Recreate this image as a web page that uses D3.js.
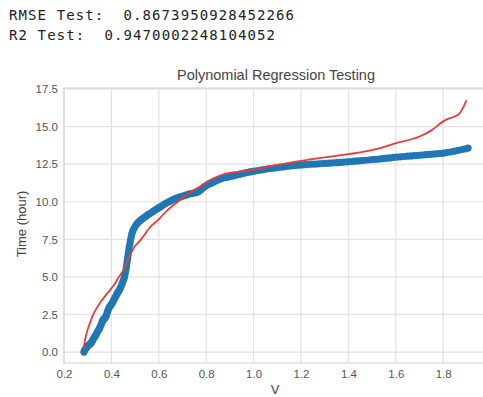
<!DOCTYPE html>
<html>
<head>
<meta charset="utf-8">
<script src="https://cdn.jsdelivr.net/npm/d3@7"></script>
<style>
  html, body { margin: 0; padding: 0; background: #fff; }
  svg { display: block; }
  .score { white-space: pre; }
</style>
</head>
<body>
<div id="chart"></div>
<script>
// printed scores above the figure
const scoreLines = [
  'RMSE Test:  0.8673950928452266',
  'R2 Test:  0.9470002248104052',
];

const xTicks = [0.2, 0.4, 0.6, 0.8, 1.0, 1.2, 1.4, 1.6, 1.8];
const yTicks = [0, 2.5, 5, 7.5, 10, 12.5, 15, 17.5];

// test points (V, hours)
const testV = [
  0.284, 0.287, 0.291, 0.295, 0.299, 0.303, 0.307, 0.311, 0.315, 0.319,
  0.323, 0.327, 0.331, 0.335, 0.339, 0.343, 0.347, 0.351, 0.355, 0.359,
  0.362, 0.366, 0.370, 0.374, 0.378, 0.381, 0.384, 0.388, 0.392, 0.396,
  0.400, 0.404, 0.408, 0.412, 0.416, 0.420, 0.424, 0.428, 0.432, 0.436,
  0.440, 0.444, 0.448, 0.452, 0.455, 0.458, 0.461, 0.463, 0.465, 0.467,
  0.469, 0.471, 0.473, 0.475, 0.478, 0.480, 0.483, 0.486, 0.490, 0.495,
  0.501, 0.507, 0.514, 0.522, 0.530, 0.538, 0.546, 0.554, 0.562, 0.570,
  0.578, 0.586, 0.594, 0.602, 0.610, 0.618, 0.626, 0.634, 0.642, 0.650,
  0.658, 0.666, 0.674, 0.682, 0.690, 0.698, 0.706, 0.714, 0.722, 0.730,
  0.738, 0.746, 0.754, 0.762, 0.770, 0.778, 0.786, 0.794, 0.802, 0.810,
  0.818, 0.826, 0.834, 0.842, 0.850, 0.858, 0.866, 0.874, 0.882, 0.890,
  0.898, 0.906, 0.914, 0.922, 0.930, 0.940, 0.950, 0.960, 0.970, 0.980,
  0.990, 1.005, 1.020, 1.035, 1.050, 1.065, 1.080, 1.095, 1.110, 1.125,
  1.140, 1.155, 1.170, 1.185, 1.200, 1.215, 1.230, 1.245, 1.260, 1.275,
  1.290, 1.305, 1.320, 1.335, 1.350, 1.365, 1.380, 1.395, 1.410, 1.425,
  1.440, 1.455, 1.470, 1.485, 1.500, 1.515, 1.530, 1.545, 1.560, 1.575,
  1.590, 1.605, 1.620, 1.635, 1.650, 1.665, 1.680, 1.695, 1.710, 1.725,
  1.740, 1.755, 1.770, 1.785, 1.800, 1.815, 1.830, 1.845, 1.860, 1.875,
  1.890, 1.905,
];
const testHours = [
  0.00, 0.12, 0.22, 0.30, 0.38, 0.45, 0.50, 0.55, 0.62, 0.72,
  0.84, 0.95, 1.05, 1.15, 1.28, 1.40, 1.50, 1.62, 1.78, 1.92,
  2.05, 2.15, 2.22, 2.30, 2.40, 2.55, 2.72, 2.88, 3.00, 3.08,
  3.18, 3.28, 3.40, 3.52, 3.64, 3.76, 3.88, 3.98, 4.08, 4.20,
  4.34, 4.50, 4.66, 4.84, 5.00, 5.20, 5.42, 5.64, 5.86, 6.08,
  6.30, 6.52, 6.74, 6.96, 7.18, 7.40, 7.62, 7.84, 8.04, 8.22,
  8.38, 8.52, 8.64, 8.76, 8.86, 8.95, 9.04, 9.14, 9.22, 9.30,
  9.38, 9.46, 9.54, 9.62, 9.70, 9.78, 9.86, 9.93, 10.00, 10.06,
  10.12, 10.18, 10.24, 10.28, 10.32, 10.36, 10.40, 10.44, 10.48, 10.52,
  10.55, 10.58, 10.60, 10.64, 10.70, 10.80, 10.92, 11.02, 11.10, 11.16,
  11.22, 11.28, 11.34, 11.40, 11.46, 11.51, 11.56, 11.60, 11.62, 11.64,
  11.67, 11.70, 11.73, 11.76, 11.79, 11.83, 11.87, 11.91, 11.94, 11.97,
  12.00, 12.04, 12.08, 12.12, 12.16, 12.20, 12.23, 12.26, 12.29, 12.32,
  12.35, 12.38, 12.41, 12.43, 12.45, 12.47, 12.48, 12.50, 12.51, 12.53,
  12.54, 12.56, 12.57, 12.59, 12.60, 12.62, 12.64, 12.66, 12.68, 12.70,
  12.72, 12.74, 12.76, 12.78, 12.80, 12.82, 12.84, 12.87, 12.90, 12.92,
  12.95, 12.97, 12.99, 13.01, 13.03, 13.05, 13.07, 13.09, 13.11, 13.13,
  13.15, 13.17, 13.19, 13.21, 13.23, 13.27, 13.31, 13.36, 13.41, 13.46,
  13.51, 13.57,
];

// polynomial fit, sampled
const fitV = [
  0.283, 0.290, 0.300, 0.310, 0.322, 0.337, 0.355, 0.375, 0.393, 0.410,
  0.430, 0.450, 0.463, 0.480, 0.500, 0.520, 0.533, 0.560, 0.604, 0.630,
  0.660, 0.688, 0.720, 0.750, 0.773, 0.800, 0.843, 0.880, 0.940, 1.000,
  1.100, 1.200, 1.300, 1.405, 1.504, 1.602, 1.700, 1.750, 1.800, 1.825,
  1.849, 1.870, 1.885, 1.898,
];
const fitHours = [
  0.25, 0.90, 1.50, 1.95, 2.45, 2.90, 3.35, 3.75, 4.10, 4.45,
  4.95, 5.45, 5.90, 6.50, 7.05, 7.40, 7.65, 8.25, 8.90, 9.35,
  9.75, 10.10, 10.50, 10.80, 11.00, 11.30, 11.65, 11.85, 12.00, 12.12,
  12.45, 12.72, 12.95, 13.18, 13.45, 13.90, 14.34, 14.75, 15.35, 15.55,
  15.67, 15.90, 16.30, 16.75,
];

const width = 483;
const height = 397;
const margin = { top: 88, right: -8, bottom: 34, left: 64 };
const plotW = width - margin.left - margin.right;
const plotH = height - margin.top - margin.bottom;

const svg = d3.select('#chart')
  .append('svg')
  .attr('width', width)
  .attr('height', height)
  .attr('viewBox', `0 0 ${width} ${height}`);

svg.selectAll('text.score')
  .data(scoreLines)
  .join('text')
  .attr('class', 'score')
  .attr('x', 9)
  .attr('y', (d, i) => 20 + i * 19.5)
  .attr('textLength', (d) => d.length * 9.5)
  .attr('lengthAdjust', 'spacing')
  .attr('font-family', '"DejaVu Sans Mono", "Liberation Mono", monospace')
  .attr('font-size', 14)
  .attr('fill', '#222')
  .text((d) => d);

const x = d3.scaleLinear()
  .domain([0.2, 0.2 + plotW / 237])
  .range([0, plotW]);

const y = d3.scaleLinear()
  .domain([-0.73, 17.57])
  .range([plotH, 0]);

const g = svg.append('g')
  .attr('transform', `translate(${margin.left}, ${margin.top})`);

g.append('clipPath')
  .attr('id', 'clip')
  .append('rect')
  .attr('width', plotW)
  .attr('height', plotH);

// grid
g.append('g')
  .selectAll('line')
  .data(xTicks)
  .join('line')
  .attr('x1', (d) => x(d))
  .attr('x2', (d) => x(d))
  .attr('y1', 0)
  .attr('y2', plotH)
  .attr('stroke', '#e2e2e2')
  .attr('stroke-width', 1.2);

g.append('g')
  .selectAll('line')
  .data(yTicks)
  .join('line')
  .attr('x1', 0)
  .attr('x2', plotW)
  .attr('y1', (d) => y(d))
  .attr('y2', (d) => y(d))
  .attr('stroke', '#e2e2e2')
  .attr('stroke-width', 1.2);

// frame
g.append('rect')
  .attr('width', plotW)
  .attr('height', plotH)
  .attr('fill', 'none')
  .attr('stroke', '#d4d4d4')
  .attr('stroke-width', 1.2);

// axes, ticks hidden like seaborn whitegrid
const xAxis = (sel) => sel
  .call(d3.axisBottom(x)
    .tickValues(xTicks)
    .tickSize(0)
    .tickPadding(7)
    .tickFormat(d3.format('.1f')));

const yAxis = (sel) => sel
  .call(d3.axisLeft(y)
    .tickValues(yTicks)
    .tickSize(0)
    .tickPadding(6)
    .tickFormat(d3.format('.1f')));

g.append('g')
  .attr('transform', `translate(0, ${plotH})`)
  .call(xAxis)
  .call((a) => a.select('.domain').remove());

g.append('g')
  .call(yAxis)
  .call((a) => a.select('.domain').remove());

g.selectAll('.tick text')
  .attr('font-family', '"Liberation Sans", Arial, sans-serif')
  .attr('font-size', 11.5)
  .attr('fill', '#555');

const points = testV.map((v, i) => ({ v: v, h: testHours[i] }));
const fit = fitV.map((v, i) => ({ v: v, h: fitHours[i] }));

g.append('g')
  .attr('clip-path', 'url(#clip)')
  .selectAll('circle')
  .data(points)
  .join('circle')
  .attr('cx', (d) => x(d.v))
  .attr('cy', (d) => y(d.h))
  .attr('r', 3.6)
  .attr('fill', '#1f77b4');

const line = d3.line()
  .x((d) => x(d.v))
  .y((d) => y(d.h))
  .curve(d3.curveMonotoneX);

g.append('path')
  .datum(fit)
  .attr('clip-path', 'url(#clip)')
  .attr('fill', 'none')
  .attr('stroke', '#ee3b36')
  .attr('stroke-width', 1.8)
  .attr('d', line);

// labels
svg.append('text')
  .attr('x', 276)
  .attr('y', 80)
  .attr('text-anchor', 'middle')
  .attr('font-family', '"Liberation Sans", Arial, sans-serif')
  .attr('font-size', 14.5)
  .attr('fill', '#444')
  .text('Polynomial Regression Testing');

svg.append('text')
  .attr('x', 275)
  .attr('y', 394)
  .attr('text-anchor', 'middle')
  .attr('font-family', '"Liberation Sans", Arial, sans-serif')
  .attr('font-size', 13)
  .attr('fill', '#444')
  .text('V');

svg.append('text')
  .attr('transform', 'translate(26, 224) rotate(-90)')
  .attr('text-anchor', 'middle')
  .attr('font-family', '"Liberation Sans", Arial, sans-serif')
  .attr('font-size', 13)
  .attr('fill', '#444')
  .text('Time (hour)');
</script>
</body>
</html>
